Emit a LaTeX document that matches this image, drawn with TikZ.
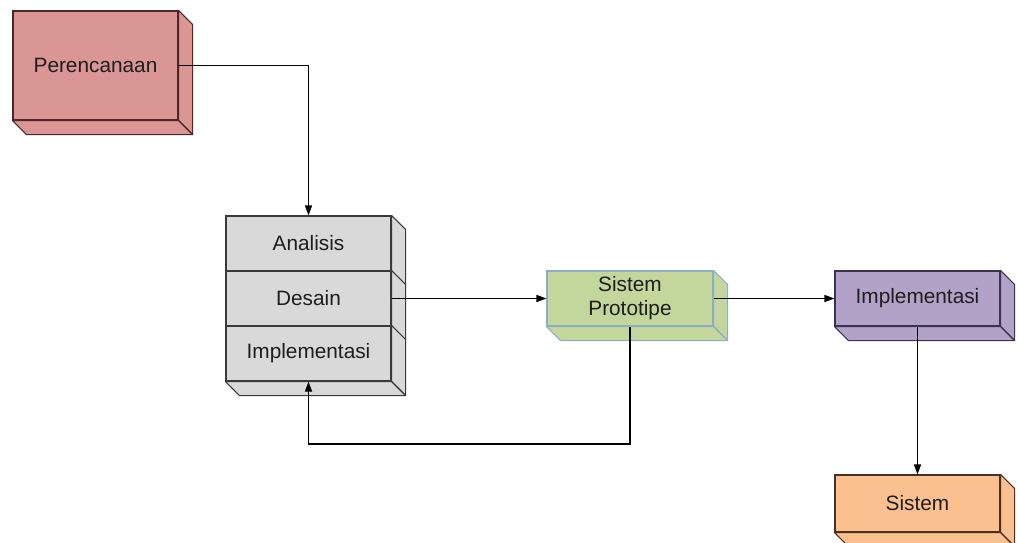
\documentclass[tikz,border=0pt]{standalone}
\usepackage{fontspec}
\setmainfont{Liberation Sans}
\usetikzlibrary{arrows.meta,calc}
\definecolor{redf}{HTML}{D99694}\definecolor{redd}{HTML}{4D2626}
\definecolor{grayf}{HTML}{D9D9D9}\definecolor{grayd}{HTML}{3A3A3A}
\definecolor{greenf}{HTML}{C3D69B}\definecolor{greend}{HTML}{8DAFC2}
\definecolor{purpf}{HTML}{B3A2C7}\definecolor{purpd}{HTML}{3F3151}
\definecolor{orgf}{HTML}{FAC090}\definecolor{orgd}{HTML}{4A3020}
\definecolor{txt}{HTML}{1E1E1E}
\newcommand{\boxsides}[3]{%
  \filldraw[fill=#2,draw=#3,line width=1.1pt,line join=round]
    (#1.north east) -- ++(14pt,-14pt) -- ($(#1.south east)+(14pt,-14pt)$) -- (#1.south east) -- cycle;
  \filldraw[fill=#2,draw=#3,line width=1.1pt,line join=round]
    (#1.south west) -- ++(14pt,-14pt) -- ($(#1.south east)+(14pt,-14pt)$) -- (#1.south east) -- cycle;}
\newcommand{\rowside}[3]{%
  \filldraw[fill=#2,draw=#3,line width=1.1pt,line join=round]
    (#1.north east) -- ++(14pt,-14pt) -- ($(#1.south east)+(14pt,-14pt)$) -- (#1.south east) -- cycle;}
\begin{document}
\begin{tikzpicture}[x=1pt,y=-1pt,
  face/.style={draw, line width=1.1pt, minimum width=165pt, inner sep=0pt, align=center,
     text=txt, font=\fontsize{20.8}{24}\selectfont},
  conn/.style={draw=black, line width=1.2pt},
  arr/.style={conn, -{Triangle[length=10pt,width=7pt]}}]
\useasboundingbox (0,0) rectangle (1019,542);
% Perencanaan
\node[face, fill=redf, draw=redd, minimum height=109pt] (per) at (95.5,65.5) {Perencanaan};
\boxsides{per}{redf}{redd}
% stacked box
\node[face, fill=grayf, draw=grayd, minimum height=55pt] (ana) at (308.5,243.5) {Analisis};
\node[face, fill=grayf, draw=grayd, minimum height=55pt] (des) at (308.5,298.5) {Desain};
\node[face, fill=grayf, draw=grayd, minimum height=55pt] (imp) at (308.5,353.5) {Implementasi};
\rowside{ana}{grayf}{grayd}
\rowside{des}{grayf}{grayd}
\boxsides{imp}{grayf}{grayd}
% Sistem Prototipe
\node[face, fill=greenf, draw=greend, minimum width=166pt, minimum height=55pt] (sp) at (630,298.5) {Sistem\\Prototipe};
\boxsides{sp}{greenf}{greend}
% Implementasi right
\node[face, fill=purpf, draw=purpd, minimum height=55pt] (imr) at (917.5,298.5) {Implementasi};
\boxsides{imr}{purpf}{purpd}
% Sistem
\node[face, fill=orgf, draw=orgd, minimum height=57pt] (sis) at (917.5,503.5) {Sistem};
\boxsides{sis}{orgf}{orgd}
% connectors
\draw[arr] (per.east) -| (ana.north);
\draw[arr] (des.east) -- (sp.west);
\draw[arr] (sp.east) -- (imr.west);
\draw[arr] (imr.south) -- (sis.north);
\coordinate (fb) at (308.5,444);
\draw[arr] (sp.south) |- (fb) -- (imp.south);
\end{tikzpicture}
\end{document}
